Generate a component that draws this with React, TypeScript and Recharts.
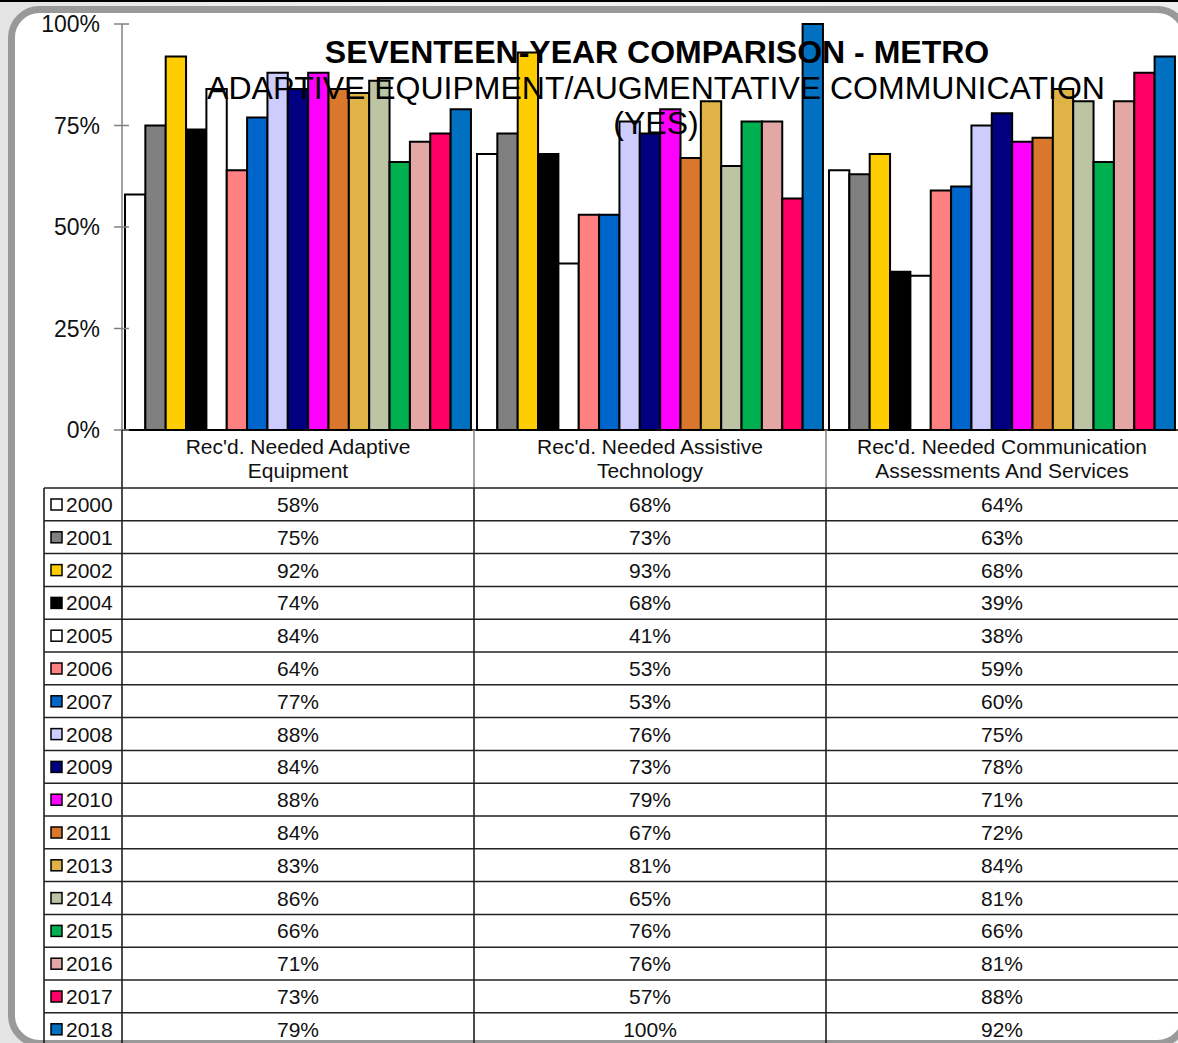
import React from 'react';
import { BarChart, Bar, XAxis, YAxis } from 'recharts';

const categories = [
  "Rec'd. Needed Adaptive Equipment",
  "Rec'd. Needed Assistive Technology",
  "Rec'd. Needed Communication Assessments And Services",
];
const categoryLines = [
  ["Rec'd. Needed Adaptive", 'Equipment'],
  ["Rec'd. Needed Assistive", 'Technology'],
  ["Rec'd. Needed Communication", 'Assessments And Services'],
];
const years = ['2000', '2001', '2002', '2004', '2005', '2006', '2007', '2008', '2009', '2010', '2011', '2013', '2014', '2015', '2016', '2017', '2018'];
const colors = ['#FFFFFF', '#808080', '#FFCC00', '#000000', '#FFFFFF', '#FF8080', '#0066CC', '#CCCCFF', '#000080', '#FF00FF', '#D9772C', '#DFB346', '#BCC5A3', '#00B050', '#E3A8A6', '#FF0066', '#0070C0'];
const adaptiveEquipment = [58, 75, 92, 74, 84, 64, 77, 88, 84, 88, 84, 83, 86, 66, 71, 73, 79];
const assistiveTechnology = [68, 73, 93, 68, 41, 53, 53, 76, 73, 79, 67, 81, 65, 76, 76, 57, 100];
const communicationServices = [64, 63, 68, 39, 38, 59, 60, 75, 78, 71, 72, 84, 81, 66, 81, 88, 92];
const yTicks = [0, 25, 50, 75, 100];
const titleLines = ['SEVENTEEN-YEAR COMPARISON - METRO', 'ADAPTIVE EQUIPMENT/AUGMENTATIVE COMMUNICATION', '(YES)'];

const seriesByCategory = [adaptiveEquipment, assistiveTechnology, communicationServices];
const data = categories.map((c, ci) => {
  const row: Record<string, any> = { category: c, index: ci };
  years.forEach((y, yi) => {
    row['y' + y] = seriesByCategory[ci][yi];
  });
  return row;
});

const W = 1178;
const H = 1043;
const PLOT_LEFT = 122;
const PLOT_TOP = 24;
const PLOT_BOTTOM = 430;
const TABLE_TOP = 488;
const ROW_H = 32.8;
const FONT = "'Liberation Sans', Arial, sans-serif";
const TF = 21;

const YTick = (props: any) => {
  const { x, y, payload } = props;
  return (
    <g>
      <line x1={x - 8} x2={x + 7} y1={y} y2={y} stroke="#808080" strokeWidth={1.5} />
      <text x={x - 22} y={y + 8} textAnchor="end" fontSize={23} fontFamily={FONT} fill="#111">
        {payload.value}%
      </text>
    </g>
  );
};

const XTick = (props: any) => {
  const { x, index } = props;
  const lines = categoryLines[index] || [];
  const vals = seriesByCategory[index] || [];
  return (
    <g fontFamily={FONT} fontSize={TF} fill="#111">
      <text x={x} y={454} textAnchor="middle">{lines[0]}</text>
      <text x={x} y={478} textAnchor="middle">{lines[1]}</text>
      {vals.map((v, i) => (
        <text key={i} x={x} y={TABLE_TOP + i * ROW_H + 24} textAnchor="middle">
          {v}%
        </text>
      ))}
    </g>
  );
};

export default function App() {
  const colW = (W - PLOT_LEFT) / categories.length;
  const tableBottom = TABLE_TOP + years.length * ROW_H;
  return (
    <div style={{ position: 'absolute', left: 0, top: 0, width: W, height: H, overflow: 'hidden', background: 'linear-gradient(90deg, #e4e4e4 0%, #f4f4f4 40%, #eeeeee 100%)' }}>
      <svg width={W} height={H} style={{ position: 'absolute', left: 0, top: 0 }}>
        <rect x={0} y={0} width={W} height={2} fill="#000" />
        <rect x={11.5} y={9.5} width={1174} height={1034} rx={28} ry={28} fill="#FFFFFF" stroke="#999999" strokeWidth={7} />
      </svg>
      <div style={{ position: 'absolute', left: 0, top: 0 }}>
        <BarChart
          width={W}
          height={H}
          data={data}
          margin={{ top: PLOT_TOP, right: 0, bottom: H - PLOT_BOTTOM - 30, left: 0 }}
          barCategoryGap={3}
          barGap={0}
          barSize={20.35}
        >
          <YAxis
            width={PLOT_LEFT}
            domain={[0, 100]}
            ticks={yTicks}
            tick={<YTick />}
            tickLine={false}
            tickSize={0}
            tickMargin={0}
            axisLine={{ stroke: '#808080', strokeWidth: 1.5 }}
            interval={0}
          />
          <XAxis
            dataKey="category"
            height={30}
            tick={<XTick />}
            tickLine={false}
            tickSize={0}
            tickMargin={0}
            axisLine={{ stroke: '#000', strokeWidth: 1.5 }}
            interval={0}
          />
          {years.map((y, i) => (
            <Bar
              key={y}
              dataKey={'y' + y}
              name={y}
              fill={colors[i]}
              stroke="#000"
              strokeWidth={2}
              isAnimationActive={false}
            />
          ))}
        </BarChart>
      </div>
      <svg width={W} height={H} style={{ position: 'absolute', left: 0, top: 0, pointerEvents: 'none' }}>
        {categories.map((_, i) => (
          i > 0 ? <line key={'hd' + i} x1={PLOT_LEFT + i * colW} x2={PLOT_LEFT + i * colW} y1={PLOT_BOTTOM} y2={TABLE_TOP} stroke="#808080" strokeWidth={1.5} /> : null
        ))}
        <line x1={PLOT_LEFT} x2={PLOT_LEFT} y1={PLOT_BOTTOM} y2={tableBottom} stroke="#111" strokeWidth={1.5} />
        {categories.map((_, i) => (
          i > 0 ? <line key={'cd' + i} x1={PLOT_LEFT + i * colW} x2={PLOT_LEFT + i * colW} y1={TABLE_TOP} y2={tableBottom} stroke="#111" strokeWidth={1.5} /> : null
        ))}
        <line x1={44} x2={44} y1={TABLE_TOP} y2={tableBottom} stroke="#111" strokeWidth={1.5} />
        {years.map((_, i) => (
          <line key={'r' + i} x1={44} x2={W} y1={TABLE_TOP + i * ROW_H} y2={TABLE_TOP + i * ROW_H} stroke="#222" strokeWidth={1.5} />
        ))}
        {years.map((y, i) => (
          <g key={'lg' + y}>
            <rect x={51} y={TABLE_TOP + i * ROW_H + 11} width={11} height={11} fill={colors[i]} stroke="#000" strokeWidth={1.5} />
            <text x={66} y={TABLE_TOP + i * ROW_H + 24} fontSize={TF} fontFamily={FONT} fill="#111">{y}</text>
          </g>
        ))}
        <text x={657} y={63} textAnchor="middle" fontSize={32} fontWeight="bold" fontFamily={FONT} fill="#000">{titleLines[0]}</text>
        <text x={656} y={99} textAnchor="middle" fontSize={32} fontFamily={FONT} fill="#000">{titleLines[1]}</text>
        <text x={656} y={134} textAnchor="middle" fontSize={32} fontFamily={FONT} fill="#000">{titleLines[2]}</text>
      </svg>
    </div>
  );
}
